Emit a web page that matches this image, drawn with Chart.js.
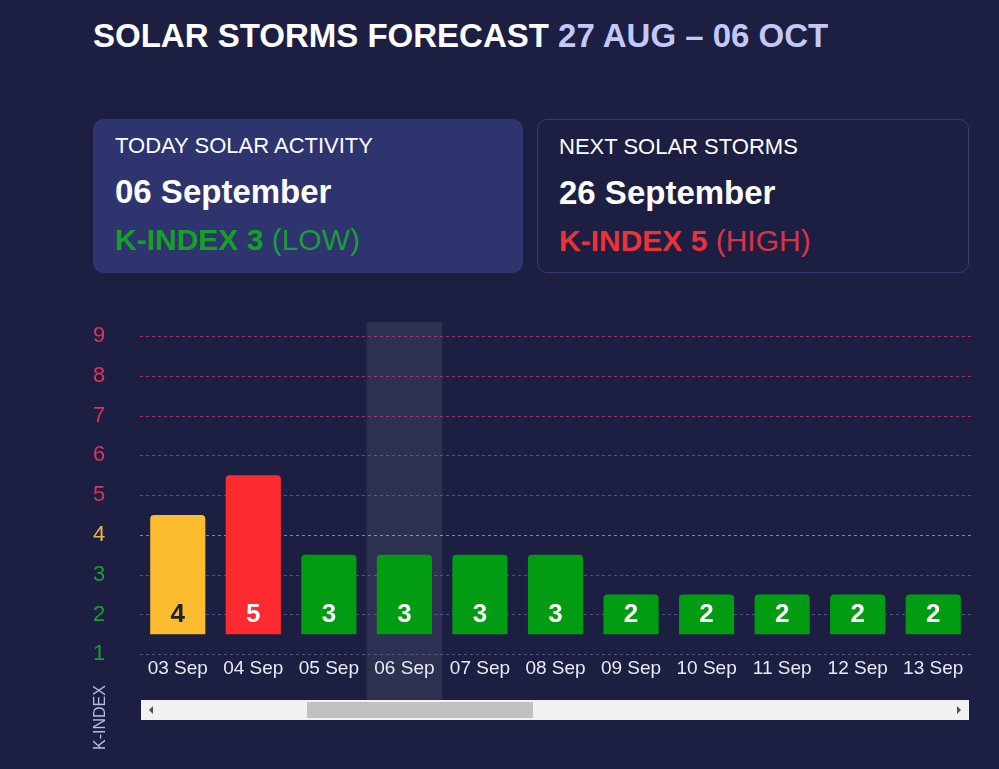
<!DOCTYPE html>
<html>
<head>
<meta charset="utf-8">
<script src="https://cdn.jsdelivr.net/npm/chart.js@4"></script>
<style>
  html, body { margin: 0; padding: 0; }
  body {
    width: 999px; height: 769px; overflow: hidden; position: relative;
    background: #1c1f42; font-family: "Liberation Sans", Arial, sans-serif; color: #fff;
  }
  .title { position: absolute; left: 93px; top: 17px; font-size: 33px; font-weight: bold; white-space: nowrap; }
  .title span { color: #c3c8fb; }
  .card { position: absolute; top: 119px; width: 430px; height: 154px; border-radius: 10px; box-sizing: border-box; }
  .card.today { left: 93px; background: #2e346e; }
  .card.next { left: 537px; width: 432px; border: 1px solid #363b70; }
  .card .head { position: absolute; left: 22px; top: 14px; font-size: 22px; }
  .card .date { position: absolute; left: 22px; top: 54px; font-size: 33px; font-weight: bold; }
  .card .kp { position: absolute; left: 22px; top: 104px; font-size: 30px; white-space: nowrap; }
  .card.next .head, .card.next .date, .card.next .kp { left: 21px; }
  .card .kp b { font-weight: bold; }
  .low { color: #1e9a3c; } .low b { color: #15a028; }
  .high { color: #d83446; } .high b { color: #ec3138; }
  .wrap { position: absolute; left: 93px; top: 309px; width: 878px; height: 391px; }
  .ylabel { position: absolute; left: 91px; top: 750px; transform-origin: 0 0; transform: rotate(-90deg);
    font-size: 16px; color: #b7bbe6; white-space: nowrap; }
  .scroll { position: absolute; left: 141px; top: 700px; width: 828px; height: 20px; background: #f1f1f1; }
  .thumb { position: absolute; left: 166px; top: 2px; width: 226px; height: 16px; background: #c1c1c1; }
  .arr { position: absolute; top: 6px; width: 0; height: 0; border-top: 4px solid transparent; border-bottom: 4px solid transparent; }
  .arr.l { left: 8px; border-right: 4px solid #505050; }
  .arr.r { right: 8px; border-left: 4px solid #505050; }
</style>
</head>
<body>
<div class="title">SOLAR STORMS FORECAST <span>27 AUG – 06 OCT</span></div>

<div class="card today">
  <div class="head">TODAY SOLAR ACTIVITY</div>
  <div class="date">06 September</div>
  <div class="kp low"><b>K-INDEX 3</b> (LOW)</div>
</div>
<div class="card next">
  <div class="head">NEXT SOLAR STORMS</div>
  <div class="date">26 September</div>
  <div class="kp high"><b>K-INDEX 5</b> (HIGH)</div>
</div>

<div class="wrap"><canvas id="kp"></canvas></div>
<div class="ylabel">K-INDEX</div>
<div class="scroll"><div class="arr l"></div><div class="thumb"></div><div class="arr r"></div></div>

<script>
const days = ['03 Sep', '04 Sep', '05 Sep', '06 Sep', '07 Sep', '08 Sep', '09 Sep', '10 Sep', '11 Sep', '12 Sep', '13 Sep'];
const kIndex = [4, 5, 3, 3, 3, 3, 2, 2, 2, 2, 2];
const todayIndex = 3;
const yTicks = [1, 2, 3, 4, 5, 6, 7, 8, 9];

// bars are drawn from 1.5 up to half a step above the k value
const barBase = 1.5;

const kColor = k => k >= 5 ? '#fd2b2f' : (k === 4 ? '#fbbd2f' : '#029c12');
const tickColor = k => k >= 5 ? '#d8365a' : (k === 4 ? '#efb448' : '#1f9a35');
const gridColor = k => k >= 5 ? 'rgba(215,65,125,0.65)' : (k === 4 ? 'rgba(205,205,220,0.6)' : 'rgba(135,140,205,0.45)');

const todayBand = {
    id: 'todayBand',
    beforeDraw(chart) {
        const x = chart.scales.x;
        const half = (x.getPixelForValue(1) - x.getPixelForValue(0)) / 2;
        const cx = x.getPixelForValue(todayIndex);
        const top = chart.chartArea.top;
        const c = chart.ctx;
        c.save();
        c.fillStyle = 'rgba(255,255,255,0.08)';
        c.fillRect(cx - half, top, half * 2, chart.height - top);
        c.restore();
    }
};

// dashed lines per k level, coloured by level
const levelLines = {
    id: 'levelLines',
    beforeDatasetsDraw(chart) {
        const y = chart.scales.y;
        const area = chart.chartArea;
        const c = chart.ctx;
        c.save();
        c.lineWidth = 1;
        c.setLineDash([3, 3]);
        yTicks.forEach(v => {
            const py = Math.round(y.getPixelForValue(v)) + 0.5;
            c.strokeStyle = gridColor(v);
            c.beginPath();
            c.moveTo(area.left, py);
            c.lineTo(area.right, py);
            c.stroke();
        });
        c.restore();
    }
};

const barValues = {
    id: 'barValues',
    afterDatasetsDraw(chart) {
        const c = chart.ctx;
        c.save();
        c.font = 'bold 26px "Liberation Sans", Arial, sans-serif';
        c.textAlign = 'center';
        c.textBaseline = 'middle';
        chart.getDatasetMeta(0).data.forEach((bar, i) => {
            c.fillStyle = kIndex[i] === 4 ? '#222222' : '#ffffff';
            c.fillText(kIndex[i], bar.x, bar.base - 19);
        });
        c.restore();
    }
};

new Chart(document.getElementById('kp'), {
    type: 'bar',
    data: {
        labels: days,
        datasets: [{
            data: kIndex.map(k => [barBase, k + 0.5]),
            backgroundColor: kIndex.map(kColor),
            borderRadius: 4,
            borderSkipped: 'start',
            categoryPercentage: 1,
            barPercentage: 0.73
        }]
    },
    options: {
        responsive: true,
        maintainAspectRatio: false,
        animation: false,
        layout: { padding: { top: 0, bottom: 17, left: 0, right: 0 } },
        plugins: { legend: { display: false }, tooltip: { enabled: false } },
        scales: {
            x: {
                grid: { display: false, drawTicks: false },
                border: { display: false },
                ticks: {
                    padding: 3,
                    color: '#e9eaf3',
                    font: { size: 19, family: '"Liberation Sans", Arial, sans-serif' }
                }
            },
            y: {
                min: 1,
                max: 9.35,
                afterFit: s => { s.width = 47; },
                afterBuildTicks: s => { s.ticks = yTicks.map(v => ({ value: v })); },
                grid: { display: false, drawTicks: false },
                border: { display: false },
                ticks: {
                    padding: 0,
                    crossAlign: 'far',
                    color: ctx => tickColor(yTicks[ctx.index]),
                    font: { size: 22, family: '"Liberation Sans", Arial, sans-serif' }
                }
            }
        }
    },
    plugins: [todayBand, levelLines, barValues]
});
</script>
</body>
</html>
